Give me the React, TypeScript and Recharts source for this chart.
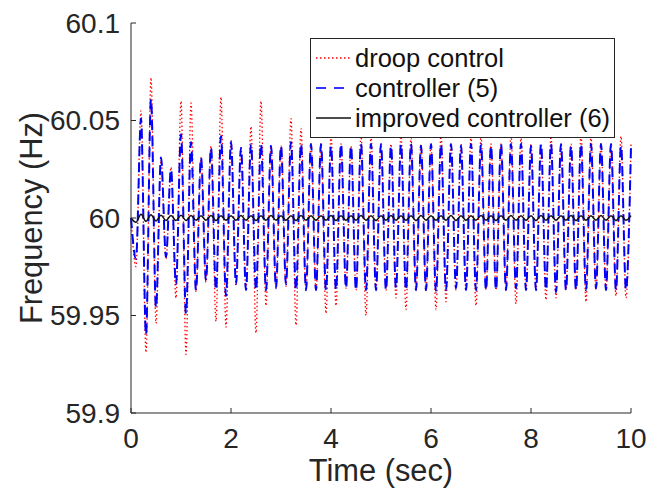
import { LineChart, Line, XAxis, YAxis, Legend } from "recharts";

const FONT = "'Liberation Sans', Arial, Helvetica, sans-serif";
const INK = "#262626";

const timeSec = [
  0, 0.1, 0.2, 0.3, 0.4, 0.5, 0.6, 0.7, 0.8, 0.9, 1.0,
  1.1, 1.2, 1.3, 1.4, 1.5, 1.6, 1.7, 1.8, 1.9, 2.0,
  2.1, 2.2, 2.3, 2.4, 2.5, 2.6, 2.7, 2.8, 2.9, 3.0,
  3.1, 3.2, 3.3, 3.4, 3.5, 3.6, 3.7, 3.8, 3.9, 4.0,
  4.1, 4.2, 4.3, 4.4, 4.5, 4.6, 4.7, 4.8, 4.9, 5.0,
  5.1, 5.2, 5.3, 5.4, 5.5, 5.6, 5.7, 5.8, 5.9, 6.0,
  6.1, 6.2, 6.3, 6.4, 6.5, 6.6, 6.7, 6.8, 6.9, 7.0,
  7.1, 7.2, 7.3, 7.4, 7.5, 7.6, 7.7, 7.8, 7.9, 8.0,
  8.1, 8.2, 8.3, 8.4, 8.5, 8.6, 8.7, 8.8, 8.9, 9.0,
  9.1, 9.2, 9.3, 9.4, 9.5, 9.6, 9.7, 9.8, 9.9, 10.0,
];

// droop control (red dotted)
const droopHz = [
  60.0, 59.975, 60.055, 59.931, 60.072, 59.946, 60.03, 59.979, 60.026, 59.959, 60.06,
  59.93, 60.059, 59.962, 60.031, 59.967, 60.037, 59.947, 60.062, 59.944, 60.04,
  59.966, 60.036, 59.963, 60.047, 59.941, 60.06, 59.955, 60.037, 59.964, 60.037,
  59.965, 60.051, 59.945, 60.046, 59.963, 60.038, 59.963, 60.038, 59.951, 60.043,
  59.955, 60.038, 59.964, 60.037, 59.963, 60.043, 59.95, 60.042, 59.963, 60.038,
  59.963, 60.038, 59.959, 60.043, 59.953, 60.041, 59.963, 60.038, 59.963, 60.038,
  59.953, 60.043, 59.957, 60.038, 59.963, 60.038, 59.963, 60.042, 59.955, 60.042,
  59.963, 60.038, 59.963, 60.038, 59.963, 60.043, 59.956, 60.041, 59.963, 60.038,
  59.963, 60.038, 59.958, 60.042, 59.959, 60.038, 59.963, 60.038, 59.963, 60.043,
  59.957, 60.042, 59.963, 60.038, 59.963, 60.038, 59.96, 60.042, 59.959, 60.038,
];

// controller (5) (blue dashed)
const ctrl5Hz = [
  60.0, 59.979, 60.051, 59.94, 60.061, 59.954, 60.031, 59.98, 60.025, 59.966, 60.043,
  59.951, 60.039, 59.963, 60.031, 59.968, 60.036, 59.963, 60.042, 59.96, 60.039,
  59.966, 60.036, 59.963, 60.038, 59.963, 60.038, 59.963, 60.037, 59.964, 60.037,
  59.966, 60.039, 59.963, 60.038, 59.963, 60.038, 59.963, 60.038, 59.963, 60.037,
  59.963, 60.038, 59.964, 60.037, 59.963, 60.038, 59.963, 60.038, 59.963, 60.038,
  59.963, 60.037, 59.964, 60.038, 59.963, 60.038, 59.963, 60.037, 59.963, 60.038,
  59.962, 60.038, 59.963, 60.038, 59.964, 60.037, 59.963, 60.038, 59.963, 60.038,
  59.963, 60.037, 59.963, 60.038, 59.963, 60.038, 59.964, 60.038, 59.963, 60.037,
  59.963, 60.038, 59.963, 60.038, 59.962, 60.038, 59.963, 60.037, 59.963, 60.038,
  59.963, 60.038, 59.964, 60.038, 59.963, 60.038, 59.963, 60.037, 59.963, 60.037,
];

// improved controller (6) (black solid)
const ctrl6Hz = [
  60.0, 59.9978, 60.0019, 59.9983, 60.0017, 59.9985, 60.0014, 59.9987, 60.0013, 59.9987, 60.0014,
  59.9987, 60.0013, 59.9988, 60.0012, 59.9988, 60.0013, 59.9987, 60.0012, 59.9988, 60.0012,
  59.9988, 60.0013, 59.9988, 60.0012, 59.9987, 60.0012, 59.9988, 60.0013, 59.9988, 60.0012,
  59.9988, 60.0012, 59.9987, 60.0013, 59.9988, 60.0012, 59.9988, 60.0012, 59.9988, 60.0013,
  59.9987, 60.0012, 59.9988, 60.0012, 59.9988, 60.0013, 59.9988, 60.0012, 59.9987, 60.0012,
  59.9988, 60.0013, 59.9988, 60.0012, 59.9988, 60.0012, 59.9987, 60.0013, 59.9988, 60.0012,
  59.9988, 60.0012, 59.9988, 60.0013, 59.9987, 60.0012, 59.9988, 60.0012, 59.9988, 60.0013,
  59.9988, 60.0012, 59.9987, 60.0012, 59.9988, 60.0013, 59.9988, 60.0012, 59.9988, 60.0012,
  59.9987, 60.0013, 59.9988, 60.0012, 59.9988, 60.0012, 59.9988, 60.0013, 59.9987, 60.0012,
  59.9988, 60.0012, 59.9988, 60.0013, 59.9988, 60.0012, 59.9987, 60.0012, 59.9988, 60.0012,
];

const xTicks = [0, 2, 4, 6, 8, 10];
const yTicks = [59.9, 59.95, 60, 60.05, 60.1];

const seriesNames = ["droop control", "controller (5)", "improved controller (6)"];

const data = timeSec.map((t, i) => ({
  t,
  droop: droopHz[i],
  ctrl5: ctrl5Hz[i],
  ctrl6: ctrl6Hz[i],
}));

function LegendBox() {
  const samples = [
    { stroke: "#ff0000", dash: "1.5 2.5", width: 1.3 },
    { stroke: "#3333ff", dash: "10 8", width: 2 },
    { stroke: "#111111", dash: undefined, width: 1.5 },
  ];
  return (
    <div
      style={{
        width: 303,
        height: 94,
        border: `1px solid ${INK}`,
        background: "#fff",
        fontFamily: FONT,
        fontSize: 25.5,
        color: "#111",
        paddingTop: 4,
        boxSizing: "content-box",
      }}
    >
      {seriesNames.map((name, i) => (
        <div key={name} style={{ display: "flex", alignItems: "center", height: 30 }}>
          <svg width={44} height={30} style={{ flex: "none" }}>
            <line
              x1={5}
              x2={40}
              y1={15}
              y2={15}
              stroke={samples[i].stroke}
              strokeWidth={samples[i].width}
              strokeDasharray={samples[i].dash}
            />
          </svg>
          <span style={{ whiteSpace: "nowrap", lineHeight: "30px" }}>{name}</span>
        </div>
      ))}
    </div>
  );
}

export default function App() {
  return (
    <div style={{ position: "absolute", left: 0, top: 0, width: 662, height: 493, background: "#fff" }}>
      <LineChart
        width={662}
        height={493}
        data={data}
        margin={{ top: 23, right: 31, left: 31, bottom: 10 }}
      >
        <XAxis
          dataKey="t"
          type="number"
          domain={[0, 10]}
          ticks={xTicks}
          interval={0}
          height={70}
          tickSize={-5}
          tickMargin={20}
          stroke={INK}
          tick={{ fontSize: 28, fill: INK, fontFamily: FONT }}
          label={() => (
            <text
              x={381}
              y={481}
              textAnchor="middle"
              fontSize={30.8}
              fill={INK}
              fontFamily={FONT}
            >
              Time (sec)
            </text>
          )}
        />
        <YAxis
          type="number"
          domain={[59.9, 60.1]}
          ticks={yTicks}
          interval={0}
          width={100}
          tickSize={-5}
          tickMargin={16}
          stroke={INK}
          tick={{ fontSize: 28, fill: INK, fontFamily: FONT }}
          label={() => (
            <text
              x={42}
              y={218}
              transform="rotate(-90 42 218)"
              textAnchor="middle"
              fontSize={30.8}
              fill={INK}
              fontFamily={FONT}
            >
              Frequency (Hz)
            </text>
          )}
        />
        <Legend
          layout="horizontal"
          align="center"
          verticalAlign="middle"
          wrapperStyle={{ left: 310, top: 38, width: 305 }}
          content={() => <LegendBox />}
        />
        <Line
          type="monotone"
          dataKey="droop"
          stroke="#ff0000"
          strokeWidth={1.3}
          strokeDasharray="1.5 2.5"
          dot={false}
          activeDot={false}
          isAnimationActive={false}
        />
        <Line
          type="monotone"
          dataKey="ctrl5"
          stroke="#0000ff"
          strokeWidth={2}
          strokeDasharray="10 6"
          dot={false}
          activeDot={false}
          isAnimationActive={false}
        />
        <Line
          type="monotone"
          dataKey="ctrl6"
          stroke="#111111"
          strokeWidth={1.5}
          dot={false}
          activeDot={false}
          isAnimationActive={false}
        />
      </LineChart>
    </div>
  );
}
